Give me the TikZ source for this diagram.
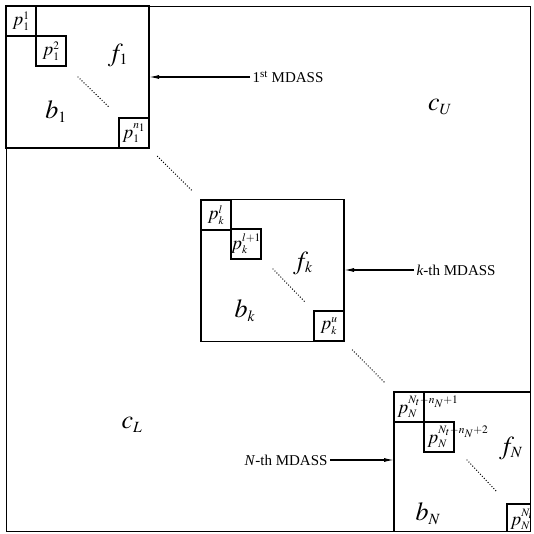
\documentclass[tikz,border=0pt]{standalone}
\usepackage{mathptmx}
\usepackage[no-math]{fontspec}
\setmainfont{Liberation Serif}
\usetikzlibrary{arrows.meta}

\begin{document}
\begin{tikzpicture}[x=1pt, y=-1pt, >={Latex[length=10pt,width=4pt]}, line width=1.1pt,
    blk/.style={draw, inner sep=0pt, outer sep=0pt, minimum width=143pt, minimum height=142pt},
    big/.style={font=\fontsize{26}{30}\selectfont, inner sep=1pt},
    plab/.style={font=\fontsize{19}{23}\selectfont, inner sep=0pt},
    mlab/.style={font=\fontsize{15}{18}\selectfont, inner sep=2pt},
    dotline/.style={line width=1.4pt, line cap=round, dash pattern=on 0pt off 2.8pt}]

    \useasboundingbox (0,0) rectangle (533,534);

    % Rahmen der ganzen Matrix
    \node[draw, line width=0.9pt, inner sep=0pt, minimum width=524pt, minimum height=525pt] (frame) at (268,268.5) {};

    % 1. Bloecke (MDASS)
    \node[blk] (blk1) at (77.5,77) {};
    \node[blk] (blkk) at (272.5,270.5) {};

    % Teilbloecke p in Block 1 und Block k
    \foreach \bx/\by/\nm/\sub/\sup in {6/6/p11/1/1, 36/36/p12/1/2, 119/118/p1n/1/n_1,
                                       201/200/pk1/k/l, 231/229/pk2/k/l+1, 314/311/pku/k/u} {
        \draw (\bx,\by) rectangle ++(30,30);
        \node[plab] (\nm) at (\bx+15,\by+15) {$p_{\scriptscriptstyle\sub}^{\scriptscriptstyle\sup}$};
    }

    % Block N (vom Rahmen abgeschnitten)
    \begin{scope}
        \clip (frame.north west) rectangle (frame.south east);
        \node[blk] (blkN) at (465.5,463) {};
        \foreach \bx/\by/\nm/\sup in {394/392/pN1/{N_t-n_N+1}, 424/422/pN2/{N_t-n_N+2}, 507/504/pNn/N_t} {
            \draw (\bx,\by) rectangle ++(30,30);
            \node[plab, anchor=west] (\nm) at (\bx+3,\by+15) {$p_{\scriptscriptstyle N}^{\scriptscriptstyle\sup}$};
        }
    \end{scope}

    % 2. Grosse Buchstaben
    \foreach \px/\py/\nm/\lab in {118/55/fa/{f_{\scriptscriptstyle 1}}, 56/112/ba/{b_{\scriptscriptstyle 1}},
                                  303/263/fk/{f_{\scriptscriptstyle k}}, 245/311/bk/{b_{\scriptscriptstyle k}},
                                  511/448/fN/{f_{\scriptscriptstyle N}}, 428/514/bN/{b_{\scriptscriptstyle N}},
                                  440/107/cU/{c_{\scriptscriptstyle U}}, 132/425/cL/{c_{\scriptscriptstyle L}}} {
        \node[big] (\nm) at (\px,\py) {$\lab$};
    }

    % 3. Punktlinien
    \draw[dotline] (78,77) -- (110,108);
    \draw[dotline] (273,269) -- (305,302);
    \draw[dotline] (467,460) -- (497,492);
    \draw[dotline, shorten >=12pt, shorten <=12pt] (blk1.south east) -- (blkk.north west);
    \draw[dotline, shorten >=12pt, shorten <=12pt] (blkk.south east) -- (blkN.north west);

    % 4. Pfeile mit Beschriftung
    \node[mlab, anchor=west] (m1) at (250,77) {1\textsuperscript{st} MDASS};
    \draw[->] (m1.west) -- (m1.west -| blk1.east);
    \node[mlab, anchor=west] (mk) at (414,270) {\textit{k}-th MDASS};
    \draw[->] (mk.west) -- (mk.west -| blkk.east);
    \node[mlab, anchor=east] (mN) at (330,460) {\textit{N}-th MDASS};
    \draw[->] (mN.east) -- (mN.east -| blkN.west);

\end{tikzpicture}
\end{document}
